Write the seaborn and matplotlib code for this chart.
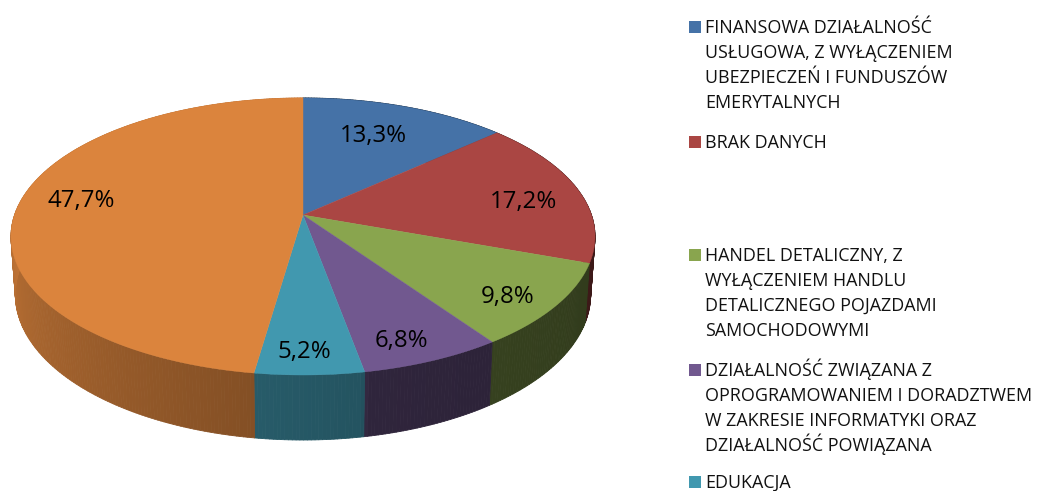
import numpy as np
import seaborn as sns
import matplotlib
matplotlib.use("Agg")
import matplotlib.pyplot as plt
from matplotlib.collections import PolyCollection

sns.set_theme(style="white")
plt.rcParams['font.family'] = ['Open Sans', 'DejaVu Sans']

# ---- data ----
shares = [13.3, 17.2, 9.8, 6.8, 5.2, 47.7]
value_labels = ["13,3%", "17,2%", "9,8%", "6,8%", "5,2%", "47,7%"]
legend_entries = [
    ["FINANSOWA DZIAŁALNOŚĆ", "USŁUGOWA, Z WYŁĄCZENIEM", "UBEZPIECZEŃ I FUNDUSZÓW", "EMERYTALNYCH"],
    ["BRAK DANYCH"],
    ["HANDEL DETALICZNY, Z", "WYŁĄCZENIEM HANDLU", "DETALICZNEGO POJAZDAMI", "SAMOCHODOWYMI"],
    ["DZIAŁALNOŚĆ ZWIĄZANA Z", "OPROGRAMOWANIEM I DORADZTWEM", "W ZAKRESIE INFORMATYKI ORAZ", "DZIAŁALNOŚĆ POWIĄZANA"],
    ["EDUKACJA"],
]
palette = sns.color_palette(["#4572A7", "#AA4643", "#89A54E", "#71588F", "#4198AF", "#DB843D"])

# ---- layout ----
W, H = 1059, 491
APEX = (303.0, 215.0)
SX, SY, K = 288.5, 135.2, 0.155
label_xy = [(373, 142), (524, 208), (508, 303), (401, 347), (304, 358), (81, 207)]
legend_first_y = [27, 142, 255, 370, 482]
LINE_STEP = 25
LEGEND_TEXT_X = 705
MARKER_X0, MARKER_SIZE = 689, 12
LABEL_FS = 17.3
LEGEND_FS = 12.9


def top_point(theta):
    """Perspective projection of a unit-circle point, clockwise from 12 o'clock."""
    s, c = np.sin(theta), np.cos(theta)
    d = 1 + K * c
    return SX * s / d, -SY * c / d


def wall_point(dx, dy):
    """The rim point directly below a top-rim point."""
    return dx * 0.985, dy + 57 + 0.05 * dy


def wall_shade(deg):
    return np.interp(deg, [100, 150, 169, 170, 188, 275, 360],
                     [.35, .40, .42, .55, .60, .88, .88])


fig = plt.figure(figsize=(W / 100, H / 100), dpi=100)
ax = fig.add_axes([0, 0, 1, 1])
ax.set_xlim(0, W)
ax.set_ylim(H, 0)
ax.axis("off")

edges = np.cumsum([0] + shares) / sum(shares) * 2 * np.pi

# side wall, painted back to front
for i, col in enumerate(palette):
    t = np.linspace(edges[i], edges[i + 1], max(int((edges[i + 1] - edges[i]) * 90), 2) + 1)
    polys, cols = [], []
    for a, b in zip(t[:-1], t[1:]):
        ax_, ay_ = top_point(a)
        bx_, by_ = top_point(b)
        cx_, cy_ = wall_point(bx_, by_)
        dx_, dy_ = wall_point(ax_, ay_)
        polys.append([(APEX[0] + ax_, APEX[1] + ay_), (APEX[0] + bx_, APEX[1] + by_),
                      (APEX[0] + cx_, APEX[1] + cy_), (APEX[0] + dx_, APEX[1] + dy_)])
        sh = wall_shade(np.degrees((a + b) / 2))
        cols.append(tuple(np.array(col) * sh))
    ax.add_collection(PolyCollection(polys, facecolors=cols, edgecolors=cols, linewidths=0.6, zorder=2))

# top surface
for i, col in enumerate(palette):
    t = np.linspace(edges[i], edges[i + 1], 200)
    px, py = top_point(t)
    ax.fill(np.r_[APEX[0], APEX[0] + px], np.r_[APEX[1], APEX[1] + py],
            color=col, lw=0.3, zorder=3)

# value labels
for txt, (x, y) in zip(value_labels, label_xy):
    ax.text(x, y, txt, ha="center", va="baseline", fontsize=LABEL_FS, color="black", zorder=4)

# legend
for lines, y0, col in zip(legend_entries, legend_first_y, palette):
    ax.fill([MARKER_X0, MARKER_X0 + MARKER_SIZE, MARKER_X0 + MARKER_SIZE, MARKER_X0],
            [y0 - 6, y0 - 6, y0 + 6, y0 + 6], color=col, lw=0)
    for j, line in enumerate(lines):
        ax.text(LEGEND_TEXT_X, y0 + 6 + j * LINE_STEP, line, ha="left", va="baseline",
                fontsize=LEGEND_FS, color="#111111")

fig.savefig("out.png", dpi=100)
